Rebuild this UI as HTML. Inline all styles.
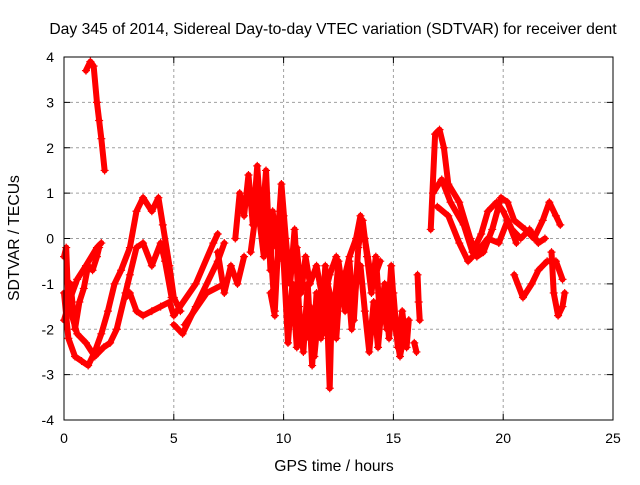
<!DOCTYPE html>
<html><head><meta charset="utf-8"><style>
body{margin:0;background:#fff}
svg text{font-family:"Liberation Sans",sans-serif;font-size:14px;fill:#000}
svg text.big{font-size:15.7px}
</style></head><body>
<svg id="chart" width="640" height="480" viewBox="0 0 640 480">
<text class="big" x="333" y="34" text-anchor="middle">Day 345 of 2014, Sidereal Day-to-day VTEC variation (SDTVAR) for receiver dent</text>
<g id="grid"></g>
<g id="ticks"></g>
<g id="series"></g>
<rect x="64" y="57" width="549" height="363" fill="none" stroke="#000" stroke-width="1"/>
<text class="big" x="334" y="471" text-anchor="middle">GPS time / hours</text>
<text class="big" transform="translate(19,238) rotate(-90)" text-anchor="middle">SDTVAR / TECUs</text>
</svg>
<script>
const xTicks=[0,5,10,15,20,25];
const yTicks=[-4,-3,-2,-1,0,1,2,3,4];
const trackA=[[1.0,3.7],[1.2,3.9],[1.35,3.8],[1.5,3.0],[1.6,2.6],[1.7,2.2],[1.85,1.5]];
const trackB=[[0,-1.2],[0.2,-2.2],[0.5,-2.6],[0.8,-2.7],[1.1,-2.8],[1.4,-2.5],[1.7,-2.1],[2.0,-1.6],[2.3,-1.0],[2.6,-0.7],[3.0,-0.2],[3.3,0.6],[3.6,0.9],[4.0,0.6],[4.3,0.9],[4.5,0.3],[4.8,-0.6],[5.0,-1.3],[5.3,-1.6]];
const trackC=[[0,-1.8],[0.3,-1.3],[0.6,-0.9],[1.0,-0.6],[1.5,-0.2],[1.7,-0.1]];
const trackD=[[0.3,-1.6],[0.6,-2.1],[1.0,-2.3],[1.4,-2.6],[1.8,-2.4],[2.1,-2.3],[2.4,-2.0],[2.8,-1.2],[3.0,-0.8],[3.3,-0.2],[3.6,-0.1],[4.0,-0.6],[4.4,-0.1],[4.6,-0.5],[4.9,-1.3]];
const trackE=[[2.8,-1.3],[3.0,-1.2],[3.3,-1.6],[3.6,-1.7],[4.0,-1.6],[4.4,-1.5],[4.8,-1.4],[5.0,-1.7],[6.0,-1.0],[6.8,-0.1],[7.0,0.1]];
const trackF=[[5.0,-1.9],[5.4,-2.1],[6.0,-1.5],[7.0,-0.5],[7.3,-0.1]];
const trackG=[[5.5,-1.9],[6.5,-1.2],[7.3,-1.0]];
const trackLeft=[[0,-0.4],[0.1,-0.2],[0.2,-1.5],[0.3,-1.0],[0.5,-2.0],[0.7,-1.4],[0.9,-1.1],[1.1,-0.6],[1.3,-0.7],[1.5,-0.4],[1.6,-0.2]];
const trackM0=[[7.0,-0.3],[7.3,-1.2],[7.6,-0.6],[7.9,-1.0],[8.2,-0.4]];
const trackM1=[[7.8,0.0],[8.0,1.0],[8.2,0.5],[8.4,1.4],[8.6,0.3],[8.8,1.6],[9.0,0.2],[9.2,1.5],[9.4,-0.7],[9.5,0.6],[9.7,-0.2],[9.9,1.2],[10.1,0.0],[10.3,-1.0],[10.5,0.2],[10.7,-1.5],[10.9,-2.5],[11.1,-1.0],[11.3,-2.8],[11.5,-1.2],[11.7,-2.2],[11.9,-0.6],[12.1,-3.3],[12.2,-1.4],[12.4,-2.2],[12.6,-0.8],[12.8,-1.6],[13.0,-0.5],[13.2,-1.8],[13.4,-0.2],[13.6,0.4],[13.8,-0.4],[14.0,-1.2],[14.2,-0.4],[14.4,-1.8],[14.6,-1.0],[14.8,-2.2],[15.0,-1.2],[15.2,-2.4],[15.4,-1.6],[15.6,-2.4],[15.7,-1.8]];
const trackM2=[[8.5,-0.3],[8.8,0.8],[9.1,-0.4],[9.3,0.5],[9.6,-1.6],[9.8,0.3],[10.0,-0.5],[10.2,-2.3],[10.4,-1.0],[10.6,-2.4],[10.8,-1.8],[11.0,-2.2],[11.2,-1.5],[11.4,-2.6],[11.6,-1.6],[11.8,-2.1],[12.0,-1.0],[12.3,-1.6],[12.5,-0.5],[12.7,-1.2],[12.9,-0.8],[13.1,-2.0],[13.3,-1.0],[13.5,-0.6],[13.7,-1.6],[13.9,-2.5],[14.1,-1.4],[14.3,-2.4],[14.5,-1.3],[14.7,-2.0],[14.9,-0.6],[15.1,-2.0],[15.3,-2.6],[15.5,-2.1]];
const trackM3=[[10.0,0.5],[10.2,-0.8],[10.4,-0.5],[10.6,-0.2],[10.8,-1.2],[11.0,-0.4],[11.2,-1.0],[11.5,-0.6],[11.8,-1.4],[12.1,-0.8],[12.4,-0.4],[12.7,-1.0],[13.0,-0.4],[13.3,0.0],[13.5,0.5],[13.7,0.0],[13.9,-0.6],[14.1,-0.9],[14.4,-0.5]];
const trackM4=[[9.4,-1.2],[9.6,-1.7]];
const trackS1=[[15.95,-2.3],[16.05,-2.5]];
const trackS2=[[16.1,-0.8],[16.15,-1.4],[16.2,-1.8]];
const trackH=[[16.7,0.2],[16.9,2.3],[17.1,2.4],[17.3,2.0],[17.5,1.2],[18.0,0.8],[18.5,0.0],[18.8,-0.4],[19.1,-0.3],[19.5,0.2],[19.9,0.9],[20.2,0.8],[20.5,0.4],[21.0,0.2],[21.4,0.0],[21.8,0.4],[22.1,0.8],[22.4,0.5],[22.6,0.3]];
const trackI=[[16.8,1.0],[17.2,1.3],[17.6,0.8],[18.2,0.3],[18.6,-0.3],[19.0,0.1],[19.3,0.6],[19.7,0.8],[20.0,0.6],[20.4,0.2],[20.8,0.0],[21.2,0.2],[21.6,-0.1],[21.9,0.0]];
const trackJ=[[17.0,0.7],[17.5,0.5],[18.0,-0.1],[18.4,-0.5],[18.8,-0.3],[19.3,0.0],[19.8,-0.1],[20.2,0.4],[20.6,-0.1]];
const trackK=[[20.5,-0.8],[20.9,-1.3],[21.3,-1.0],[21.6,-0.7],[22.0,-0.5],[22.4,-0.5],[22.7,-0.9]];
const trackL=[[22.2,-0.3],[22.3,-1.2],[22.5,-1.7],[22.7,-1.5],[22.8,-1.2]];
const allTracks=[trackA,trackB,trackC,trackD,trackE,trackF,trackG,trackLeft,trackM0,trackM1,trackM2,trackM3,trackM4,trackS1,trackS2,trackH,trackI,trackJ,trackK,trackL];

const NS='http://www.w3.org/2000/svg';
const X0=64,X1=613,Y0=420,Y1=57;
function xs(t){return X0+(t-0)/(25-0)*(X1-X0);}
function ys(v){return Y0-(v+4)/8*(Y0-Y1);}
function mk(tag,attrs,parent){const e=document.createElementNS(NS,tag);for(const k in attrs)e.setAttribute(k,attrs[k]);parent.appendChild(e);return e;}
const grid=document.getElementById('grid'),ticks=document.getElementById('ticks'),ser=document.getElementById('series');
xTicks.forEach(t=>{
  const x=xs(t);
  if(t>0&&t<25){const g=mk('line',{x1:x,x2:x,y1:Y1,y2:Y0,stroke:'#a0a0a0','stroke-dasharray':'3,3'},grid);
  
  }
  mk('line',{x1:x,x2:x,y1:Y0,y2:Y0-6,stroke:'#000'},ticks);
  mk('line',{x1:x,x2:x,y1:Y1,y2:Y1+6,stroke:'#000'},ticks);
  const l=mk('text',{x:x,y:443,'text-anchor':'middle'},ticks);l.textContent=t;
  
  
});
yTicks.forEach(v=>{
  const y=ys(v);
  if(v>-4&&v<4){const g=mk('line',{x1:X0,x2:X1,y1:y,y2:y,stroke:'#a0a0a0','stroke-dasharray':'3,3'},grid);
  
  }
  mk('line',{x1:X0,x2:X0+6,y1:y,y2:y,stroke:'#000'},ticks);
  mk('line',{x1:X1,x2:X1-6,y1:y,y2:y,stroke:'#000'},ticks);
  const l=mk('text',{x:54,y:y+5,'text-anchor':'end'},ticks);l.textContent=v;
  
  
});
allTracks.forEach(tr=>{
  const p=mk('polyline',{points:tr.map(d=>xs(d[0])+','+ys(d[1])).join(' '),fill:'none',stroke:'#f00','stroke-width':6,'stroke-linejoin':'round','stroke-linecap':'round'},ser);
  
  
  tr.forEach(d=>{
    const x=xs(d[0]),y=ys(d[1]);
    const m=mk('path',{d:`M${x-4},${y}H${x+4}M${x},${y-4}V${y+4}`,stroke:'#f00','stroke-width':1.2},ser);
    
    
  });
});
</script>
</body></html>
